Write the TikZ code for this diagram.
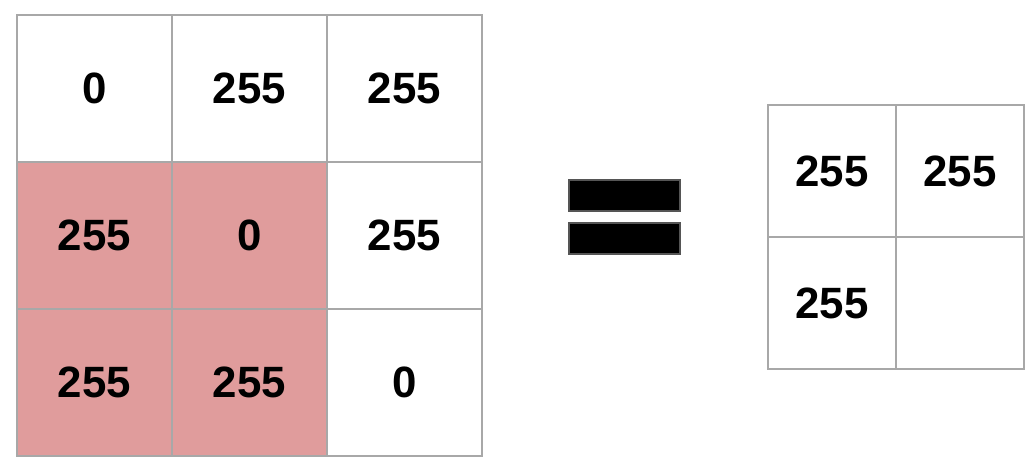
\documentclass[tikz,border=0pt]{standalone}
\usepackage{fontspec}
\setmainfont{Liberation Sans}
\definecolor{cellpink}{HTML}{E09C9C}
\definecolor{gridgray}{HTML}{A8A8A8}
\definecolor{barrim}{HTML}{555555}
\tikzset{
  bigcell/.style={draw=gridgray,line width=2bp,minimum width=155bp,minimum height=147bp,inner sep=0pt,font=\fontsize{44}{44}\selectfont\bfseries},
  smallcell/.style={draw=gridgray,line width=2bp,minimum width=128bp,minimum height=132bp,inner sep=0pt,font=\fontsize{44}{44}\selectfont\bfseries},
  eqbar/.style={draw=barrim,fill=black,line width=1.5bp,minimum width=111bp,minimum height=31bp,inner sep=0pt},
}
\begin{document}
\begin{tikzpicture}[x=1bp,y=-1bp]
\useasboundingbox (0,0) rectangle (1035,472);
%%
\node (cell_00) at (94.5bp,-88.5bp) [bigcell] {0};
  \node (cell_01) at (249.5bp,-88.5bp) [bigcell] {255};
  \node (cell_02) at (404.5bp,-88.5bp) [bigcell] {255};
  \node (cell_10) at (94.5bp,-235.5bp) [bigcell,fill=cellpink] {255};
  \node (cell_11) at (249.5bp,-235.5bp) [bigcell,fill=cellpink] {0};
  \node (cell_12) at (404.5bp,-235.5bp) [bigcell] {255};
  \node (cell_20) at (94.5bp,-382.5bp) [bigcell,fill=cellpink] {255};
  \node (cell_21) at (249.5bp,-382.5bp) [bigcell,fill=cellpink] {255};
  \node (cell_22) at (404.5bp,-382.5bp) [bigcell] {0};
%
\node (bar_top) at (624.5bp,-195.5bp) [eqbar] {};
  \node (bar_bot) at (624.5bp,-238.5bp) [eqbar] {};
%
\node (out_00) at (832bp,-171bp) [smallcell] {255};
  \node (out_01) at (960bp,-171bp) [smallcell] {255};
  \node (out_10) at (832bp,-303bp) [smallcell] {255};
  \node (out_11) at (960bp,-303bp) [smallcell] {};
%
\end{tikzpicture}
\end{document}
